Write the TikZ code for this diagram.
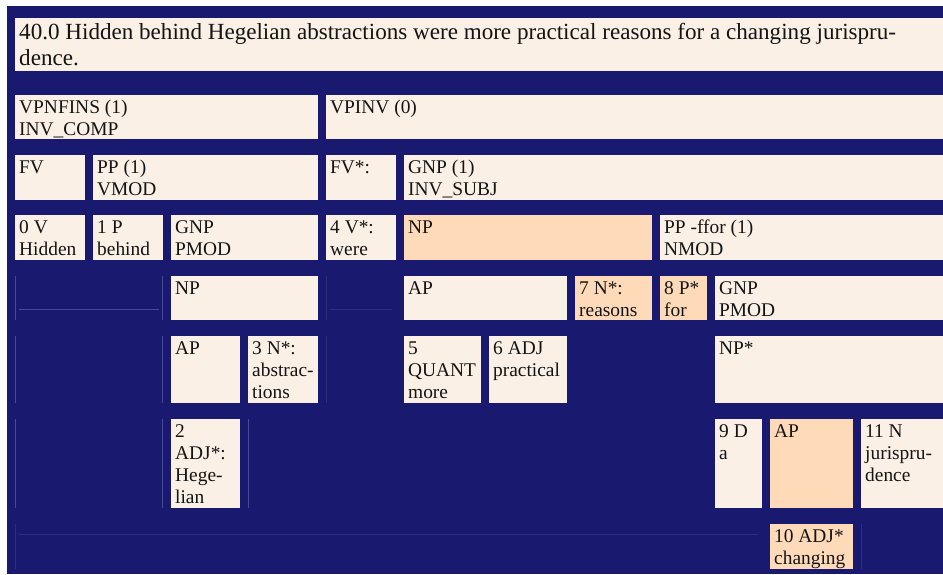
\documentclass[tikz,border=0pt]{standalone}
\usepackage{fontspec}
\setmainfont{Liberation Serif}
\definecolor{bg}{RGB}{25,25,112}
\definecolor{lin}{RGB}{250,240,230}
\definecolor{pch}{RGB}{255,218,185}
\definecolor{fa}{RGB}{70,74,150}
\definecolor{fb}{RGB}{44,46,126}
\definecolor{ink}{RGB}{20,20,20}
\newcommand\cell[7]{%
  \fill[#6] (#2,#3) rectangle (#4,#5);
  \node[txt] (#1) at (#2+4,#3+18) {\begin{tabular}[t]{@{}l@{}}#7\end{tabular}};}
\begin{document}
\begin{tikzpicture}[x=1pt,y=-1pt,
  txt/.style={anchor=base west,inner sep=0pt,text=ink,font=\fontsize{19.4}{22.3}\selectfont},
  ttl/.style={anchor=base west,inner sep=0pt,text=ink,font=\fontsize{23.1}{26}\selectfont},
  fline/.style={draw=fa,line width=1pt},
  gline/.style={draw=fb,line width=1pt}]
\useasboundingbox (0,0) rectangle (943,574);
\fill[white] (0,0) rectangle (943,574);
\fill[bg] (7,6) rectangle (943,574);
% title
\fill[lin] (15,18) rectangle (943,71);
\node[ttl] (title) at (19,39.5) {\begin{tabular}[t]{@{}l@{}}40.0 Hidden behind Hegelian abstractions were more practical reasons for a changing jurispru-\\dence.\end{tabular}};
% row 1
\cell{vpnfins}{15}{95}{318}{139}{lin}{VPNFINS (1)\\INV\_COMP}
\cell{vpinv}{326}{95}{943}{139}{lin}{VPINV (0)}
% row 2
\cell{fv}{15}{155}{85}{200}{lin}{FV}
\cell{pp1}{93}{155}{318}{200}{lin}{PP (1)\\VMOD}
\cell{fvs}{326}{155}{396}{200}{lin}{FV*:}
\cell{gnp1}{404}{155}{943}{200}{lin}{GNP (1)\\INV\_SUBJ}
% row 3
\cell{w0}{15}{215}{85}{260}{lin}{0 V\\Hidden}
\cell{w1}{93}{215}{163}{260}{lin}{1 P\\behind}
\cell{gnpa}{171}{215}{318}{260}{lin}{GNP\\PMOD}
\cell{w4}{326}{215}{396}{260}{lin}{4 V*:\\were}
\cell{npb}{404}{215}{652}{260}{pch}{NP}
\cell{ppf}{660}{215}{943}{260}{lin}{PP -ffor (1)\\NMOD}
% row 4
\cell{npa}{171}{276}{318}{320}{lin}{NP}
\cell{apb}{404}{276}{567}{320}{lin}{AP}
\cell{w7}{575}{276}{652}{320}{pch}{7 N*:\\reasons}
\cell{w8}{660}{276}{707}{320}{pch}{8 P*\\for}
\cell{gnpc}{715}{276}{943}{320}{lin}{GNP\\PMOD}
% row 5
\cell{apa}{171}{336}{240}{403}{lin}{AP}
\cell{w3}{248}{336}{318}{403}{lin}{3 N*:\\abstrac-\\tions}
\cell{w5}{404}{336}{481}{403}{lin}{5\\QUANT\\more}
\cell{w6}{489}{336}{567}{403}{lin}{6 ADJ\\practical}
\cell{npc}{715}{336}{943}{403}{lin}{NP*}
% row 6
\cell{w2}{171}{419}{240}{508}{lin}{2\\ADJ*:\\Hege-\\lian}
\cell{w9}{715}{419}{762}{508}{lin}{9 D\\a}
\cell{apc}{770}{419}{853}{508}{pch}{AP}
\cell{w11}{861}{419}{943}{508}{lin}{11 N\\jurispru-\\dence}
% row 7
\cell{w10}{770}{524}{853}{569}{pch}{10 ADJ*\\changing}
% faint empty-cell borders
\draw[fline] (15.5,276) -- (15.5,320);
\draw[fline] (162.7,276) -- (162.7,320);
\draw[fline] (19,309.3) -- (159,309.3);
\draw[fline] (15.5,336) -- (15.5,403);
\draw[fline] (162.7,336) -- (162.7,403);
\draw[fline] (15.5,419) -- (15.5,508);
\draw[fline] (162.7,419) -- (162.7,508);
\draw[fline] (248.3,419) -- (248.3,508);
\draw[gline] (326.3,276) -- (326.3,320);
\draw[gline] (330,309.3) -- (392,309.3);
\draw[gline] (326.3,336) -- (326.3,403);
\draw[gline] (15.5,524) -- (15.5,569);
\draw[gline] (19,534.3) -- (758,534.3);
\draw[gline] (861,524) -- (861,569);
\end{tikzpicture}
\end{document}
